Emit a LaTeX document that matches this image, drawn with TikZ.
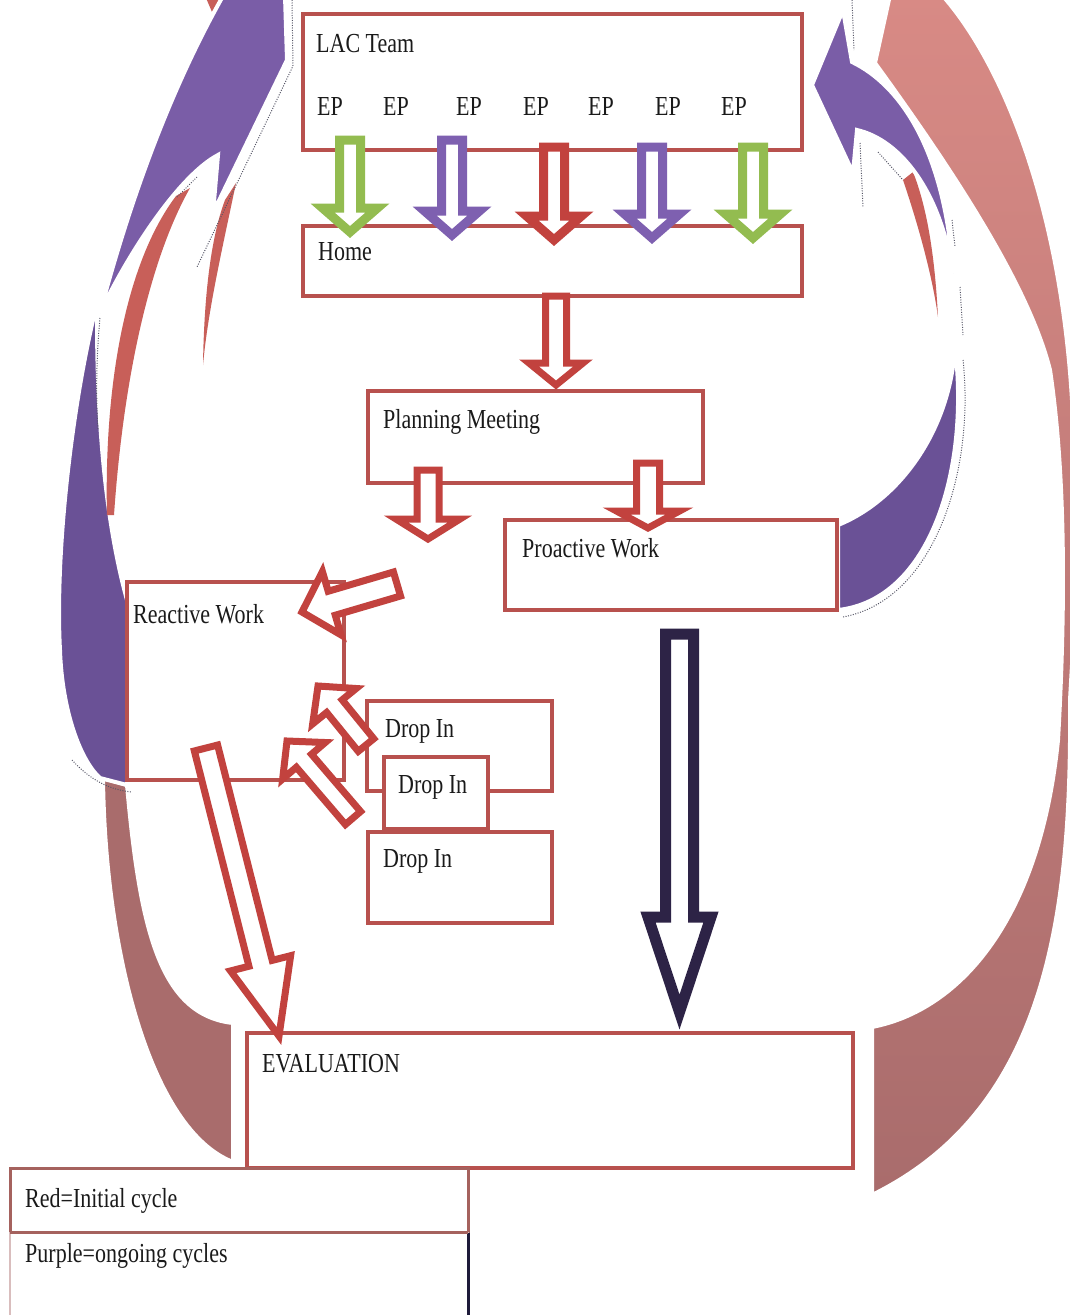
\documentclass[tikz,border=0pt]{standalone}
\usepackage{fontspec}
\setmainfont{Liberation Serif}[FakeStretch=0.8]
\usetikzlibrary{calc,fit}
\definecolor{boxred}{HTML}{B8514E}
\definecolor{arrred}{HTML}{C2423E}
\definecolor{arrpurple}{HTML}{7E60B0}
\definecolor{arrgreen}{HTML}{93BC50}
\definecolor{arrdark}{HTML}{2D2346}
\definecolor{ribpurple}{HTML}{7A5DA7}
\definecolor{ribpurpledark}{HTML}{6A5196}
\definecolor{ribrose}{HTML}{A96C6C}
\definecolor{ribtop}{HTML}{D88A85}
\definecolor{ribmid}{HTML}{C8534D}
\definecolor{sliver}{HTML}{C85F59}
\definecolor{navyline}{HTML}{1E1B3A}
\definecolor{textcol}{HTML}{1A1A1A}
\definecolor{legline}{HTML}{A5625E}
\definecolor{legfaint}{HTML}{D9BDBD}
\definecolor{dotgrey}{HTML}{555566}

% hollow block arrow: #1 style, #2 tail, #3 tip, #4 half shaft, #5 half head, #6 head length
\newcommand\blockarr[6]{%
  \filldraw[#1] ($(#2)!#4!90:(#3)$) -- ($(#3)!#6!(#2)!#4!90:(#3)$) -- ($(#3)!#6!(#2)!#5!90:(#3)$) -- (#3) -- ($(#3)!#6!(#2)!#5!-90:(#3)$) -- ($(#3)!#6!(#2)!#4!-90:(#3)$) -- ($(#2)!#4!-90:(#3)$) -- cycle;}

\begin{document}
\begin{tikzpicture}[x=1pt,y=-1pt,
  box/.style={draw=boxred, line width=4.5pt, fill=white, inner sep=0pt, outer sep=0pt},
  lbl/.style={anchor=base west, inner sep=0pt, text=textcol, font=\fontsize{27.5}{30}\selectfont},
  harrow/.style={draw=#1, fill=white, line width=7pt, line join=miter, miter limit=20},
  ribbon/.style={draw=white, line width=4pt},
  dotline/.style={draw=dotgrey, line width=1pt, dash pattern=on 1pt off 1.5pt},
]
\useasboundingbox (0,0) rectangle (1070,1315);
\fill[white] (0,0) rectangle (1070,1315);
\clip (0,0) rectangle (1070,1315);

% ---------- right ribbons ----------
\path[ribbon, top color=ribtop, middle color=ribmid, bottom color=ribrose]
  (890,-5) -- (942,-5) .. controls (1000,60) and (1060,200) .. (1072,400) -- (1078,560) -- (1070,700)
  .. controls (1072,920) and (1045,1110) .. (872,1195) -- (872,1027)
  .. controls (960,1010) and (1040,920) .. (1058,740)
  .. controls (1066,600) and (1065,470) .. (1050,370)
  .. controls (1030,290) and (960,180) .. (875,63) -- cycle;
\fill[sliver] (903,180) .. controls (920,230) and (933,280) .. (938,317)
  .. controls (935,260) and (928,210) .. (913,172) -- cycle;
\path[ribbon, fill=ribpurple] (812,85) -- (843,10) -- (852,62)
  .. controls (900,85) and (945,150) .. (953,273)
  .. controls (940,190) and (900,140) .. (857,130) -- (853,173) -- cycle;
\path[ribbon, fill=ribpurpledark] (955,347) .. controls (970,470) and (930,600) .. (838,610)
  -- (838,525) .. controls (900,500) and (950,430) .. (955,347) -- cycle;
% dotted outline traces (right)
\draw[dotline] (852,0) -- (854,50);
\draw[dotline] (860,143) -- (863,207);
\draw[dotline] (878,152) -- (903,180);
\draw[dotline] (952,220) -- (955,247);
\draw[dotline] (960,287) -- (963,335);
\draw[dotline] (963,360) .. controls (975,470) and (935,600) .. (843,617);

% ---------- left ribbons ----------
\path[ribbon, fill=ribrose] (103,778) .. controls (105,950) and (150,1130) .. (233,1162)
  -- (233,1023) .. controls (160,1015) and (140,930) .. (127,785) -- cycle;
\path[ribbon, fill=ribpurpledark] (93,320) .. controls (70,420) and (55,560) .. (60,650)
  .. controls (62,710) and (80,760) .. (100,778) -- (127,785) -- (127,600)
  .. controls (105,520) and (97,420) .. (97,318) -- cycle;
\fill[sliver] (190,188) .. controls (152,255) and (124,370) .. (114,515)
  -- (107,515) .. controls (104,390) and (124,265) .. (176,196) -- cycle;
\fill[sliver] (236,183) .. controls (222,250) and (208,310) .. (203,365)
  .. controls (204,300) and (210,240) .. (225,200) -- cycle;
\fill[sliver] (206,-2) -- (222,-2) -- (212,12) -- cycle;
\path[ribbon, fill=ribpurple] (223,-4) -- (285,-4) -- (287,60) -- (213,213) -- (218,155)
  .. controls (180,175) and (130,250) .. (100,313)
  .. controls (130,200) and (170,90) .. (223,-4) -- cycle;
% dotted outline traces (left)
\draw[dotline] (292,0) -- (293,66) -- (197,267);
\draw[dotline] (197,177) -- (177,197);
\draw[dotline] (100,318) .. controls (96,360) and (96,400) .. (98,430);
\draw[dotline] (72,760) .. controls (90,780) and (110,790) .. (132,792);

% ---------- boxes ----------
\node[box, fit={(303,14) (802,150)}] (lac) {};
\node[box, fit={(303,226) (802,296)}] (home) {};
\node[box, fit={(368,391) (703,483)}] (plan) {};
\node[box, fit={(505,520) (837,610)}] (pro) {};
\node[box, fit={(127,582) (344,780)}] (react) {};
\node[box, fit={(367,701) (552,791)}] (drop1) {};
\node[box, fit={(384,757) (488,829)}] (drop2) {};
\node[box, fit={(368,832) (552,923)}] (drop3) {};
\node[box, fit={(247,1033) (853,1168)}] (eval) {};
\node[box, draw=legline, line width=3pt, fit={(10,1168) (468,1232)}] (leg1) {};
\node[box, draw=legfaint, line width=2pt, fit={(10,1233) (468,1335)}] (leg2) {};
\draw[navyline, line width=3pt] (leg2.north east) -- (leg2.south east);
\draw[legline, line width=3pt] (leg1.south west) -- (leg1.south east);

% ---------- labels ----------
\node[lbl] (tlac) at (316,52) {LAC Team};
\node[lbl] (ep1) at (317,115) {EP};
\node[lbl] (ep2) at (383,115) {EP};
\node[lbl] (ep3) at (456,115) {EP};
\node[lbl] (ep4) at (523,115) {EP};
\node[lbl] (ep5) at (588,115) {EP};
\node[lbl] (ep6) at (655,115) {EP};
\node[lbl] (ep7) at (721,115) {EP};
\node[lbl] (thome) at (318,260) {Home};
\node[lbl] (tplan) at (383,428) {Planning Meeting};
\node[lbl] (tpro) at (522,557) {Proactive Work};
\node[lbl] (treact) at (133,623) {Reactive Work};
\node[lbl] (tdrop1) at (385,737) {Drop In};
\node[lbl] (tdrop2) at (398,793) {Drop In};
\node[lbl] (tdrop3) at (383,867) {Drop In};
\node[lbl] (teval) at (262,1072) {EVALUATION};
\node[lbl] (tleg1) at (25,1207) {Red=Initial cycle};
\node[lbl] (tleg2) at (25,1262) {Purple=ongoing cycles};

% ---------- arrow end points ----------
\coordinate (a1s) at (350,140); \coordinate (a1e) at (350,232);
\coordinate (a2s) at (452,140); \coordinate (a2e) at (452,235);
\coordinate (a3s) at (554,147); \coordinate (a3e) at (554,240);
\coordinate (a4s) at (652,147); \coordinate (a4e) at (652,238);
\coordinate (a5s) at (753,147); \coordinate (a5e) at (753,238);
\coordinate (hps) at (556,296); \coordinate (hpe) at (556,385);
\coordinate (pls) at (428,470); \coordinate (ple) at (428,539);
\coordinate (pps) at (648,463); \coordinate (ppe) at (648,528);
\coordinate (rts) at (397,584); \coordinate (rte) at (302,612);
\coordinate (dus) at (366,745); \coordinate (due) at (318,686);
\coordinate (dls) at (353,818); \coordinate (dle) at (287,741);
\coordinate (res) at (206,748); \coordinate (ree) at (279,1036);
\coordinate (pes) at (679.5,634); \coordinate (pee) at (679.5,1012);

% ---------- arrows ----------
\blockarr{harrow=arrgreen, line width=9pt}{a1s}{a1e}{10.5pt}{27.5pt}{24pt}
\blockarr{harrow=arrpurple, line width=9pt}{a2s}{a2e}{10.5pt}{27.5pt}{24pt}
\blockarr{harrow=arrred, line width=9pt}{a3s}{a3e}{10.5pt}{27.5pt}{24pt}
\blockarr{harrow=arrpurple, line width=9pt}{a4s}{a4e}{10.5pt}{27.5pt}{24pt}
\blockarr{harrow=arrgreen, line width=9pt}{a5s}{a5e}{10.5pt}{27.5pt}{24pt}
\blockarr{harrow=arrred}{hps}{hpe}{10.5pt}{27pt}{22pt}
\blockarr{harrow=arrred}{pls}{ple}{11pt}{32pt}{20pt}
\blockarr{harrow=arrred}{pps}{ppe}{11.5pt}{31.5pt}{17pt}
\blockarr{harrow=arrred}{rts}{rte}{12.5pt}{33pt}{31pt}
\blockarr{harrow=arrred}{dus}{due}{10pt}{28pt}{26pt}
\blockarr{harrow=arrred}{dls}{dle}{10pt}{28pt}{26pt}
\blockarr{harrow=arrred}{res}{ree}{12pt}{31pt}{75pt}
\blockarr{harrow=arrdark, line width=11pt}{pes}{pee}{14pt}{31.5pt}{95pt}
\end{tikzpicture}
\end{document}
